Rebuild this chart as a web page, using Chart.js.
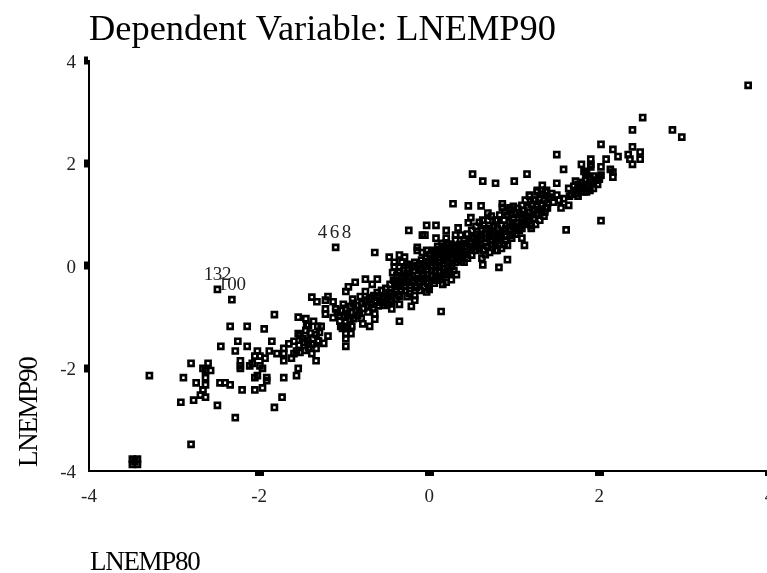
<!DOCTYPE html>
<html>
<head>
<meta charset="utf-8">
<title>Dependent Variable: LNEMP90</title>
<script src="https://cdn.jsdelivr.net/npm/chart.js@4"></script>
<style>
  html, body { margin: 0; padding: 0; background: #fff; overflow: hidden; }
  canvas { display: block; }
</style>
</head>
<body>
<canvas id="myChart" width="776" height="573"></canvas>
<script>
var chartTitle = "Dependent Variable: LNEMP90";
var xAxisName = "LNEMP80";
var yAxisName = "LNEMP90";
var tickValues = [-4, -2, 0, 2, 4];

// the first three cases are the labelled ones
var caseLabels = ["132", "100", "468"];

var lnemp80 = [
  -2.49,-2.32,-1.10,
  -1.82,-1.54,-2.34,-2.14,-1.94,-2.25,-1.85,-2.45,-2.14,-2.28,
  -2.02,-1.88,-1.79,-1.71,-1.65,-1.59,-1.54,-1.71,-1.71,-1.62,
  -1.59,-1.56,-2.05,-1.99,-1.93,-2.22,-2.22,-2.22,-2.08,-2.11,
  -1.99,-1.96,-2.80,-2.60,-2.66,-2.57,-2.63,-2.63,-3.29,-2.89,
  -2.74,-2.63,-2.46,-2.40,-2.34,-2.05,-2.02,-1.91,-1.91,-1.71,
  -1.56,-1.54,-1.96,-2.05,-2.20,-2.66,-2.69,-2.63,-2.77,-2.92,
  -2.49,-1.73,-1.82,-2.28,-2.80,-3.46,-3.43,-3.49,-3.43,-3.49,
  -1.45,-1.36,-1.38,-1.32,-1.44,-1.42,-1.31,-1.40,-1.53,-1.42,
  -1.38,-1.33,-1.31,-0.64,-0.47,-0.35,-0.41,-0.41,-0.32,-0.26,
  -0.35,-0.75,-0.61,-0.67,-0.87,-0.95,-0.98,-0.75,-1.19,-1.22,
  -1.13,-0.81,-1.01,-1.22,-1.22,-1.10,-1.13,-1.04,-0.78,-0.70,
  -0.64,-0.64,-0.44,-0.35,-0.35,-1.27,-1.19,-1.24,-1.30,-1.33,
  -1.42,-0.98,-0.98,-0.98,-0.92,
  -1.52,-1.49,-1.45,-1.37,-1.47,-1.43,-1.38,-1.46,-1.52,-1.33,-1.29,
  -1.08,-1.03,-0.98,-0.93,-0.89,-1.00,-0.96,-0.91,-0.86,-0.98,
  -0.93,-0.89,-0.84,-0.96,-0.91,-0.99,
  -0.79,-0.75,-0.70,-0.65,-0.61,-0.56,-0.51,-0.46,-0.77,-0.72,
  -0.68,-0.63,-0.58,-0.53,-0.49,-0.44,-0.39,-0.35,-0.30,-0.53,
  -0.49,-0.44,-0.39,-0.35,
  -0.43,-0.38,-0.35,-0.30,-0.25,-0.42,-0.37,-0.32,-0.28,-0.23,
  0.28,0.46,0.61,0.69,0.49,0.46,0.63,0.80,-0.24,-0.03,
  0.08,0.20,0.34,-0.08,-0.05,0.08,0.20,0.31,0.37,0.20,
  -0.14,-0.14,-0.29,-0.08,-0.03,-0.23,-0.17,0.41,0.63,0.82,
  0.32,0.26,0.20,0.16,0.00,-0.17,-0.17,0.00,-0.03,-0.17,
  -0.21,0.14,
  -0.23,-0.18,-0.14,-0.09,-0.04,0.01,0.05,0.10,0.15,0.19,
  -0.28,-0.23,-0.18,-0.14,-0.09,-0.04,0.01,0.05,0.10,0.15,
  0.19,0.24,-0.28,-0.23,-0.16,-0.11,-0.06,-0.02,0.03,0.08,
  0.12,0.17,0.22,0.26,0.31,-0.11,-0.06,0.03,0.08,0.12,
  0.17,0.22,0.26,0.31,0.36,0.10,0.15,0.19,0.24,0.29,
  0.26,0.31,0.36,0.41,0.45,0.50,0.55,0.59,0.64,0.69,
  0.73,0.78,0.83,0.88,0.92,0.29,0.34,0.38,0.43,0.48,
  0.52,0.57,0.62,0.66,0.71,0.76,0.80,0.85,0.90,0.95,
  0.99,0.38,0.43,0.48,0.52,0.57,0.62,0.66,0.71,0.76,
  0.80,0.85,0.90,0.95,0.99,1.04,0.45,0.50,0.55,0.59,
  0.64,0.69,0.73,0.78,0.83,0.88,0.97,1.02,1.06,1.11,
  0.62,0.66,0.71,0.80,0.85,
  1.15,1.58,1.79,1.84,0.63,0.78,1.00,1.33,1.50,1.72,
  1.64,1.73,1.84,1.18,1.27,1.33,1.38,1.44,1.50,1.55,
  1.64,1.61,0.86,0.86,0.95,0.89,1.39,1.20,1.09,0.95,
  1.09,1.12,0.92,0.78,0.92,0.51,
  0.95,0.99,1.04,1.09,1.13,1.18,1.23,1.27,1.32,1.37,
  1.42,0.97,1.02,1.06,1.11,1.16,1.20,1.25,1.30,1.35,
  1.39,1.09,1.13,1.18,1.23,1.27,1.32,1.37,1.13,1.18,
  1.23,1.27,1.32,1.25,1.30,1.35,1.20,
  3.75,2.51,2.39,2.86,2.97,2.02,2.16,2.39,2.48,2.22,
  2.34,2.36,2.48,2.39,2.08,1.90,1.90,1.90,2.02,1.50,
  1.82,1.85,2.13,2.16,2.16,1.93,2.00,1.93,1.79,1.85,
  1.58,1.65,2.02,2.02,
  1.70,1.75,1.79,1.84,1.89,1.67,1.72,1.77,1.82,1.86,
  1.91,1.96,2.00,1.75,1.82,1.89,1.93,1.98,1.53,1.46,
  -0.26,-0.20,-0.20,-0.15,-0.12,-0.12,-0.07,-0.07,-0.07,-0.02,
  -0.02,-0.01,0.03,0.03,0.03,0.06,0.07,0.07,0.07,0.12,
  0.12,0.12,0.12,0.17,0.17,0.17,0.17,0.22,0.22,0.22,
  0.22,0.27,0.27,0.27,0.33,0.33,0.33,0.38,0.38,0.38,
  0.44,0.44,0.50,0.50,0.55,0.55,0.60,0.60,0.67,0.67,
  0.74,0.74,0.82,0.82,0.90,0.88,0.98,0.98,1.03,1.08,
  1.15,1.22,1.10,1.28,1.36,1.40,
  -0.90,-0.85,-0.82,-0.80,-0.75,-0.72,-0.68,-0.65,-0.60,-0.60,
  -0.55,-0.55,-0.47,-0.46,-0.40,-0.40,-0.36,-0.33,-0.33,-0.28,
  -0.26,-1.05,-1.05,-1.02
];

var lnemp90 = [
  -0.46,-0.66,0.36,
  -0.95,-1.00,-1.18,-1.18,-1.23,-1.47,-1.47,-1.57,-1.57,-1.66,
  -1.66,-1.66,-1.71,-1.61,-1.52,-1.47,-1.32,-1.71,-1.85,-1.80,
  -1.71,-1.66,-1.76,-1.76,-1.80,-1.85,-1.95,-2.00,-1.90,-1.95,
  -1.95,-2.00,-1.90,-1.90,-2.00,-2.04,-2.04,-2.18,-2.14,-2.18,
  -2.28,-2.32,-2.28,-2.28,-2.32,-2.18,-2.14,-2.18,-2.24,-2.18,
  -2.14,-2.00,-2.38,-2.42,-2.42,-2.42,-2.52,-2.56,-2.62,-2.66,
  -2.72,-2.56,-2.76,-2.96,-3.48,-3.82,-3.77,-3.77,-3.87,-3.87,
  -1.03,-1.08,-0.61,-0.70,-1.16,-1.16,-1.18,-1.31,-1.55,-1.60,
  -1.71,-1.85,-1.46,0.26,0.17,0.21,0.07,-0.02,0.07,0.03,
  -0.02,-0.26,-0.26,-0.36,-0.32,-0.41,-0.50,-0.50,-0.60,-0.67,
  -0.70,-0.60,-0.75,-0.84,-0.94,-0.84,-1.01,-1.18,-1.13,-1.18,
  -1.04,-0.94,-0.84,-0.75,-1.08,-1.18,-1.37,-1.51,-1.47,-1.61,
  -1.51,-1.57,-1.42,-1.32,-1.32,
  -1.36,-1.42,-1.26,-1.42,-1.49,-1.46,-1.53,-1.65,-1.69,-1.34,-1.30,
  -0.91,-0.87,-0.83,-0.79,-0.73,-0.99,-0.95,-0.91,-0.87,-1.10,
  -1.06,-1.03,-0.97,-1.22,-1.18,-1.18,
  -0.73,-0.67,-0.63,-0.58,-0.52,-0.48,-0.44,-0.36,-0.83,-0.79,
  -0.75,-0.71,-0.67,-0.63,-0.60,-0.54,-0.48,-0.40,-0.32,-0.77,
  -0.73,-0.69,-0.65,-0.60,
  -0.13,-0.19,-0.13,-0.09,-0.05,-0.28,-0.34,-0.24,-0.21,-0.15,
  1.21,1.17,1.17,1.03,0.94,0.84,0.89,0.89,0.69,0.79,
  0.79,0.69,0.74,0.60,0.60,0.54,0.54,0.60,0.60,0.45,
  0.36,0.30,0.17,0.26,0.30,0.02,0.07,0.07,0.02,-0.03,
  -0.17,-0.27,-0.32,-0.36,-0.41,-0.48,-0.58,-0.46,-0.51,-0.67,
  -0.79,-0.89,
  -0.21,-0.09,0.01,0.11,0.15,0.22,0.30,0.38,0.44,0.34,
  -0.28,-0.38,-0.28,-0.19,-0.09,-0.01,0.07,0.15,0.22,0.26,
  0.19,0.30,-0.48,-0.54,-0.40,-0.32,-0.24,-0.17,-0.09,0.01,
  0.07,0.11,0.07,0.15,0.26,-0.48,-0.40,-0.28,-0.21,-0.13,
  -0.05,-0.09,-0.01,0.07,0.19,-0.28,-0.24,-0.17,-0.13,-0.09,
  0.42,0.50,0.42,0.50,0.62,0.69,0.77,0.85,0.79,0.89,
  0.97,0.89,0.99,0.89,0.99,0.30,0.34,0.30,0.38,0.46,
  0.54,0.62,0.69,0.63,0.73,0.77,0.73,0.79,0.73,0.85,
  0.93,0.15,0.22,0.30,0.38,0.46,0.54,0.46,0.58,0.60,
  0.56,0.62,0.58,0.69,0.77,0.85,0.15,0.21,0.30,0.34,
  0.30,0.38,0.42,0.44,0.50,0.42,0.54,0.62,0.69,0.85,
  0.15,0.22,0.26,0.30,0.34,
  1.79,1.88,1.98,1.82,1.65,1.61,1.65,1.57,1.61,1.65,
  1.51,1.41,1.51,1.38,1.47,1.47,1.47,1.41,1.38,1.13,
  1.18,0.70,1.21,1.14,1.13,1.05,1.13,0.78,0.73,0.59,
  0.54,0.40,0.40,0.30,0.12,1.79,
  1.08,1.16,1.12,1.18,1.28,1.36,1.28,1.44,1.40,1.44,
  1.34,1.01,1.04,1.01,1.08,1.14,1.20,1.28,1.32,1.28,
  1.22,0.93,0.97,1.04,1.08,1.16,1.20,1.12,0.81,0.89,
  0.93,1.01,1.04,0.81,0.89,0.97,0.73,
  3.52,2.89,2.65,2.65,2.51,2.37,2.27,2.32,2.22,2.13,
  2.17,2.08,2.08,1.98,2.08,2.08,1.98,1.93,1.93,2.17,
  1.84,1.79,1.88,1.83,1.73,1.75,1.69,1.61,1.51,1.44,
  1.31,1.36,0.88,1.77,
  1.55,1.59,1.63,1.67,1.71,1.40,1.47,1.51,1.55,1.59,
  1.63,1.67,1.73,1.36,1.44,1.47,1.51,1.59,1.28,1.24,
  -0.15,-0.02,-0.32,-0.42,-0.25,-0.05,0.04,-0.30,-0.16,-0.34,
  -0.08,0.08,-0.20,0.00,0.14,-0.34,-0.12,0.08,0.26,-0.20,
  0.00,0.16,0.32,-0.12,0.04,0.20,0.38,-0.02,0.14,0.26,
  0.42,0.06,0.22,0.36,0.12,0.20,0.38,0.08,0.24,0.36,
  0.28,0.44,0.36,0.54,0.40,0.55,0.42,0.60,0.54,0.72,
  0.50,0.66,0.42,0.62,0.50,0.68,0.62,0.82,0.72,0.80,
  0.88,1.00,1.00,1.10,1.05,1.30,
  -0.65,-0.78,-0.92,-1.02,-0.70,-0.90,-0.62,-0.82,-0.60,-0.78,
  -0.60,-0.72,-0.52,-0.66,-0.30,-0.40,-0.56,-0.20,-0.48,-0.40,
  -0.60,-0.97,-1.08,-1.22
];

var serif = "'Liberation Serif', 'Times New Roman', serif";

var points = [];
for (var i = 0; i < lnemp80.length; i++) {
  points.push({ x: lnemp80[i], y: lnemp90[i] });
}

// axis names sit apart from the axes and are squeezed, case labels too
var extraText = {
  id: "extraText",
  afterDraw: function (chart) {
    var ctx = chart.ctx;
    var area = chart.chartArea;
    var meta = chart.getDatasetMeta(0);

    ctx.save();
    ctx.fillStyle = "#000";
    ctx.font = "27px " + serif;
    ctx.letterSpacing = "-1.3px";
    ctx.textAlign = "left";
    ctx.textBaseline = "alphabetic";
    ctx.fillText(xAxisName, area.left + 1, 570);

    ctx.translate(37, area.bottom - 4);
    ctx.rotate(-Math.PI / 2);
    ctx.fillText(yAxisName, 0, 0);
    ctx.restore();

    ctx.save();
    ctx.fillStyle = "#222";
    ctx.font = "19px " + serif;
    ctx.textAlign = "center";
    ctx.textBaseline = "bottom";
    caseLabels.forEach(function (label, n) {
      ctx.letterSpacing = label === "468" ? "2.5px" : "-0.3px";
      ctx.fillText(label, meta.data[n].x, meta.data[n].y - 5);
    });
    ctx.restore();
  }
};

function axis(tickThickness) {
  return {
    type: "linear",
    min: tickValues[0],
    max: tickValues[tickValues.length - 1],
    afterBuildTicks: function (scale) {
      scale.ticks = tickValues.map(function (v) { return { value: v }; });
    },
    border: { display: true, color: "#000", width: 2 },
    grid: {
      drawOnChartArea: false,
      drawTicks: true,
      tickLength: 5,
      tickWidth: tickThickness,
      // no mark where the two axes meet
      tickColor: function (c) {
        return c.tick && c.tick.value === -4 ? "rgba(0,0,0,0)" : "#000";
      }
    },
    ticks: {
      autoSkip: false,
      maxRotation: 0,
      color: "#222",
      font: { family: serif, size: 19 }
    }
  };
}

var xAxis = axis(9);
xAxis.ticks.padding = 10;
xAxis.afterFit = function (scale) {
  scale.height = 102;
  scale.paddingLeft = 0;
  scale.paddingRight = 0;
};

var yAxis = axis(8);
yAxis.ticks.padding = 8;
yAxis.ticks.labelOffset = 2;
yAxis.afterFit = function (scale) {
  scale.width = 89;
  scale.paddingTop = 0;
  scale.paddingBottom = 0;
};

var ctx = document.getElementById("myChart").getContext("2d");
var myScatter = new Chart(ctx, {
  type: "scatter",
  data: {
    datasets: [
      {
        label: yAxisName,
        data: points,
        pointStyle: "rect",
        pointRadius: 3.6,
        pointBorderWidth: 2.6,
        pointBorderColor: "#000",
        pointBackgroundColor: "rgba(0,0,0,0)"
      }
    ]
  },
  options: {
    responsive: false,
    animation: false,
    layout: { padding: { left: 0, right: 5, top: 0, bottom: 0 } },
    plugins: {
      legend: { display: false },
      tooltip: { enabled: false },
      title: {
        display: true,
        text: chartTitle,
        align: "start",
        fullSize: false,
        color: "#000",
        font: { family: serif, size: 36.4, weight: "normal", lineHeight: 1.2 },
        padding: { top: 9, bottom: 8 }
      }
    },
    scales: { x: xAxis, y: yAxis }
  },
  plugins: [extraText]
});
</script>
</body>
</html>
